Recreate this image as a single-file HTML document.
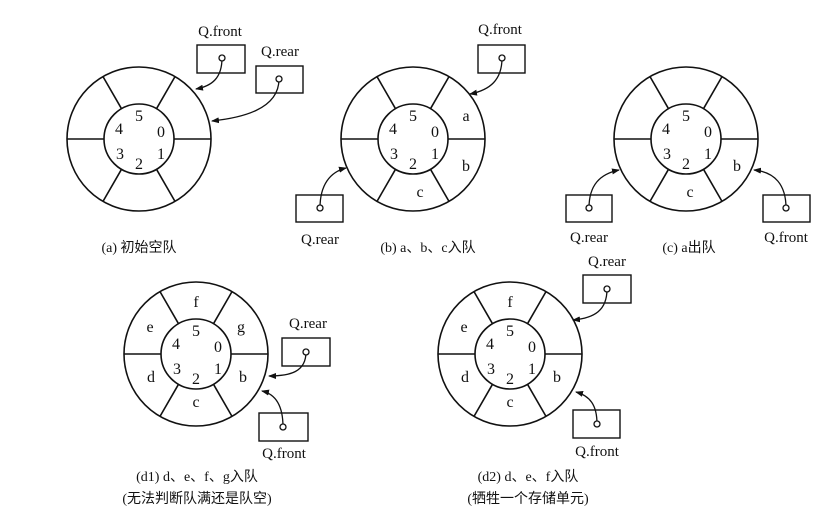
<!DOCTYPE html>
<html><head><meta charset="utf-8"><style>
html,body{margin:0;padding:0;background:#fff}
svg{display:block}
text{font-family:"Liberation Serif","Noto Serif CJK SC",serif;fill:#111}
.n{font-size:16px;text-anchor:middle}
.q{font-size:15px;text-anchor:middle}
.cap{font-size:14px;text-anchor:middle;font-family:"Liberation Serif","Noto Sans CJK SC",serif}
</style></head><body>
<svg width="836" height="520" viewBox="0 0 836 520" xmlns="http://www.w3.org/2000/svg">
<defs>
<g id="ring" fill="none" stroke="#111" stroke-width="1.6">
<circle r="72"/><circle r="35"/>
<line x1="35" y1="0" x2="72" y2="0"/><line x1="-35" y1="0" x2="-72" y2="0"/>
<line x1="17.5" y1="-30.3" x2="36" y2="-62.4"/><line x1="-17.5" y1="-30.3" x2="-36" y2="-62.4"/>
<line x1="17.5" y1="30.3" x2="36" y2="62.4"/><line x1="-17.5" y1="30.3" x2="-36" y2="62.4"/>
</g>
<g id="nums">
<text class="n" x="0" y="-18">5</text><text class="n" x="-20" y="-5">4</text><text class="n" x="22" y="-2">0</text>
<text class="n" x="-19" y="20">3</text><text class="n" x="0" y="30">2</text><text class="n" x="22" y="20">1</text>
</g>
<marker id="ar" markerWidth="8" markerHeight="6" refX="7" refY="3" orient="auto" markerUnits="userSpaceOnUse"><path d="M0,0 L8,3 L0,6 Z" fill="#111"/></marker>
</defs>
<g fill="none" stroke="#111" stroke-width="1.4">
<!-- boxes -->
<rect x="197" y="45" width="48" height="28"/><rect x="256" y="66" width="47" height="27"/>
<rect x="478" y="45" width="47" height="28"/><rect x="296" y="195" width="47" height="27"/>
<rect x="566" y="195" width="46" height="27"/><rect x="763" y="195" width="47" height="27"/>
<rect x="282" y="338" width="48" height="28"/><rect x="259" y="413" width="49" height="28"/>
<rect x="583" y="275" width="48" height="28"/><rect x="573" y="410" width="47" height="28"/>
</g>
<g fill="none" stroke="#111" stroke-width="1.3" marker-end="url(#ar)">
<path d="M222,58 C222,78 212,86 196,89"/>
<path d="M279,79 C279,110 240,118 212,121"/>
<path d="M502,58 C502,80 490,90 470,94"/>
<path d="M320,208 C320,185 330,172 346,168"/>
<path d="M589,208 C589,185 600,174 619,170"/>
<path d="M786,208 C786,185 775,172 754,170"/>
<path d="M306,352 C306,372 290,376 269,376"/>
<path d="M283,427 C283,405 275,394 262,391"/>
<path d="M607,289 C607,310 595,318 573,320"/>
<path d="M597,424 C597,405 590,396 576,392"/>
</g>
<g fill="#fff" stroke="#111" stroke-width="1.3">
<circle cx="222" cy="58" r="3"/><circle cx="279" cy="79" r="3"/><circle cx="502" cy="58" r="3"/>
<circle cx="320" cy="208" r="3"/><circle cx="589" cy="208" r="3"/><circle cx="786" cy="208" r="3"/>
<circle cx="306" cy="352" r="3"/><circle cx="283" cy="427" r="3"/><circle cx="607" cy="289" r="3"/><circle cx="597" cy="424" r="3"/>
</g>
<use href="#ring" x="139" y="139"/><use href="#nums" x="139" y="139"/>
<use href="#ring" x="413" y="139"/><use href="#nums" x="413" y="139"/>
<use href="#ring" x="686" y="139"/><use href="#nums" x="686" y="139"/>
<use href="#ring" x="196" y="354"/><use href="#nums" x="196" y="354"/>
<use href="#ring" x="510" y="354"/><use href="#nums" x="510" y="354"/>
<text class="q" x="220" y="36">Q.front</text><text class="q" x="280" y="56">Q.rear</text>
<text class="q" x="500" y="34">Q.front</text><text class="q" x="320" y="244">Q.rear</text>
<text class="q" x="589" y="242">Q.rear</text><text class="q" x="786" y="242">Q.front</text>
<text class="q" x="308" y="328">Q.rear</text><text class="q" x="284" y="458">Q.front</text>
<text class="q" x="607" y="266">Q.rear</text><text class="q" x="597" y="456">Q.front</text>
<g class="n">
<text class="n" x="466" y="121">a</text><text class="n" x="466" y="171">b</text><text class="n" x="420" y="197">c</text>
<text class="n" x="737" y="171">b</text><text class="n" x="690" y="197">c</text>
<text class="n" x="196" y="307">f</text><text class="n" x="150" y="332">e</text><text class="n" x="241" y="332">g</text>
<text class="n" x="151" y="382">d</text><text class="n" x="243" y="382">b</text><text class="n" x="196" y="407">c</text>
<text class="n" x="510" y="307">f</text><text class="n" x="464" y="332">e</text>
<text class="n" x="465" y="382">d</text><text class="n" x="557" y="382">b</text><text class="n" x="510" y="407">c</text>
</g>
<text class="cap" x="139" y="252">(a) 初始空队</text>
<text class="cap" x="428" y="252">(b) a、b、c入队</text>
<text class="cap" x="689" y="252">(c) a出队</text>
<text class="cap" x="197" y="481">(d1) d、e、f、g入队</text>
<text class="cap" x="197" y="503">(无法判断队满还是队空)</text>
<text class="cap" x="528" y="481">(d2) d、e、f入队</text>
<text class="cap" x="528" y="503">(牺牲一个存储单元)</text>
</svg>
</body></html>
